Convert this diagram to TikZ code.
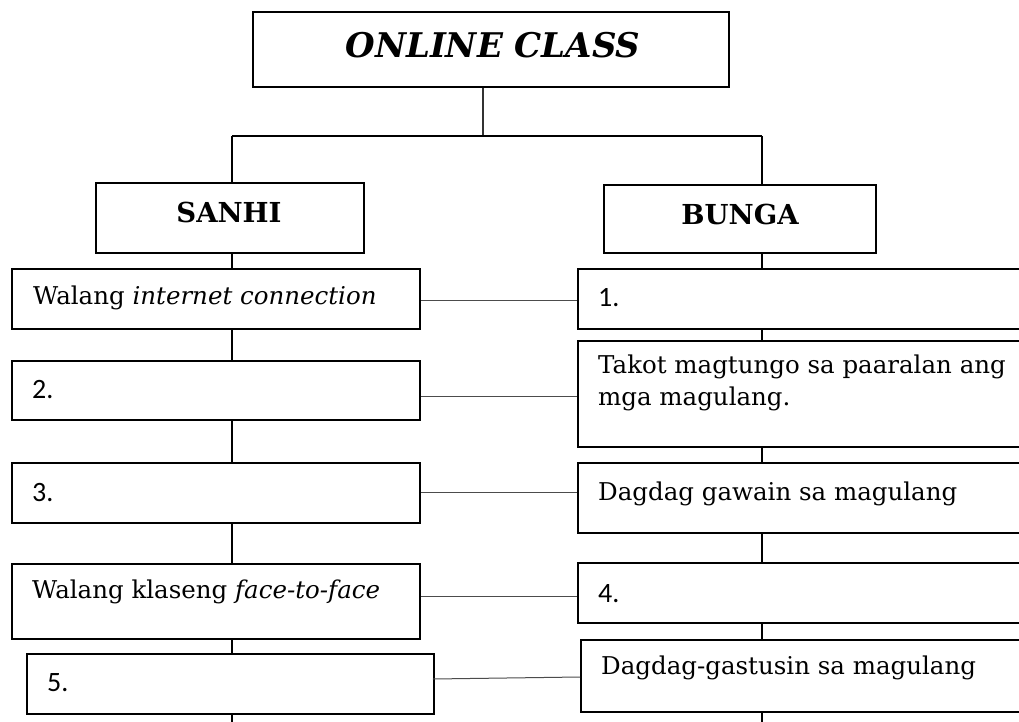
\documentclass[tikz,border=0pt]{standalone}
\usepackage{fontspec}
\setmainfont{DejaVu Serif}
\newfontfamily\calib{Carlito}
\begin{document}
\begin{tikzpicture}[x=1pt,y=-1pt,
  box/.style={draw=black,line width=1.8pt,fill=white,inner sep=0pt,anchor=north west},
  trunk/.style={draw=black,line width=1.8pt},
  link/.style={draw=black!70,line width=1pt},
  stem/.style={draw=black!80,line width=1.1pt},
  txt/.style={inner sep=0pt,anchor=base west,font=\fontsize{24.5}{32}\selectfont},
  num/.style={inner sep=0pt,anchor=base west,font=\calib\fontsize{28}{32}\selectfont},
  head/.style={inner sep=0pt,anchor=base,font=\bfseries\fontsize{27.5}{32}\selectfont},
]
\clip (0,0) rectangle (1019,722);
\fill[white] (0,0) rectangle (1019,722);
% coordinates of the junctions
\coordinate (jl) at (232,136);
\coordinate (jr) at (762,136);
\coordinate (jc) at (483,136);
\coordinate (lend) at (232,722);
\coordinate (rend) at (762,722);
% boxes
\node[box,minimum width=476pt,minimum height=75pt] (T) at (252,11) {};
\node[box,minimum width=268pt,minimum height=70pt] (S) at (95,182) {};
\node[box,minimum width=272pt,minimum height=68pt] (B) at (603,184) {};
\node[box,minimum width=408pt,minimum height=60pt] (L1) at (11,268) {};
\node[box,minimum width=408pt,minimum height=59pt] (L2) at (11,360) {};
\node[box,minimum width=408pt,minimum height=60pt] (L3) at (11,462) {};
\node[box,minimum width=408pt,minimum height=75pt] (L4) at (11,563) {};
\node[box,minimum width=407pt,minimum height=60pt] (L5) at (26,653) {};
\node[box,minimum width=460pt,minimum height=60pt] (R1) at (577,268) {};
\node[box,minimum width=460pt,minimum height=106pt] (R2) at (577,340) {};
\node[box,minimum width=460pt,minimum height=70pt] (R3) at (577,462) {};
\node[box,minimum width=460pt,minimum height=60pt] (R4) at (577,562) {};
\node[box,minimum width=457pt,minimum height=72pt] (R5) at (580,639) {};
% tree lines
\draw[stem] (jc |- T.south) -- (jc);
\draw[trunk] (jl) -- (jr);
\draw[trunk] (jl) -- (jl |- S.north);
\draw[trunk] (jr) -- (jr |- B.north);
\draw[trunk] (jl |- S.south) -- (jl |- L1.north);
\draw[trunk] (jl |- L1.south) -- (jl |- L2.north);
\draw[trunk] (jl |- L2.south) -- (jl |- L3.north);
\draw[trunk] (jl |- L3.south) -- (jl |- L4.north);
\draw[trunk] (jl |- L4.south) -- (jl |- L5.north);
\draw[trunk] (jl |- L5.south) -- (lend);
\draw[trunk] (jr |- B.south) -- (jr |- R1.north);
\draw[trunk] (jr |- R1.south) -- (jr |- R2.north);
\draw[trunk] (jr |- R2.south) -- (jr |- R3.north);
\draw[trunk] (jr |- R3.south) -- (jr |- R4.north);
\draw[trunk] (jr |- R4.south) -- (jr |- R5.north);
\draw[trunk] (jr |- R5.south) -- (rend);
% cause-effect links
\draw[link] (L1.east |- 0,300) -- (R1.west |- 0,300);
\draw[link] (L2.east |- 0,396) -- (R2.west |- 0,396);
\draw[link] (L3.east |- 0,492) -- (R3.west |- 0,492);
\draw[link] (L4.east |- 0,596) -- (R4.west |- 0,596);
\draw[link] ([xshift=-2pt]L5.east |- 0,679) -- (R5.west |- 0,677);
% texts
\node[inner sep=0pt,anchor=base,font=\bfseries\itshape\fontsize{34}{40}\selectfont] (tT) at (493,58) {ONLINE CLASS};
\node[head] (tS) at (229,222) {SANHI};
\node[head] (tB) at (740,224) {BUNGA};
\node[txt] (tL1) at (33,304) {Walang \textit{internet connection}};
\node[num] (tL2) at (32,398) {2.};
\node[num] (tL3) at (32,501) {3.};
\node[txt] (tL4) at (32,598) {Walang klaseng \textit{face-to-face}};
\node[num] (tL5) at (47,691) {5.};
\node[num] (tR1) at (598,306) {1.};
\node[txt] (tR2a) at (598,373) {Takot magtungo sa paaralan ang};
\node[txt] (tR2b) at (598,405) {mga magulang.};
\node[txt] (tR3) at (598,500) {Dagdag gawain sa magulang};
\node[num] (tR4) at (598,602) {4.};
\node[txt] (tR5) at (601,674) {Dagdag-gastusin sa magulang};
\end{tikzpicture}
\end{document}
